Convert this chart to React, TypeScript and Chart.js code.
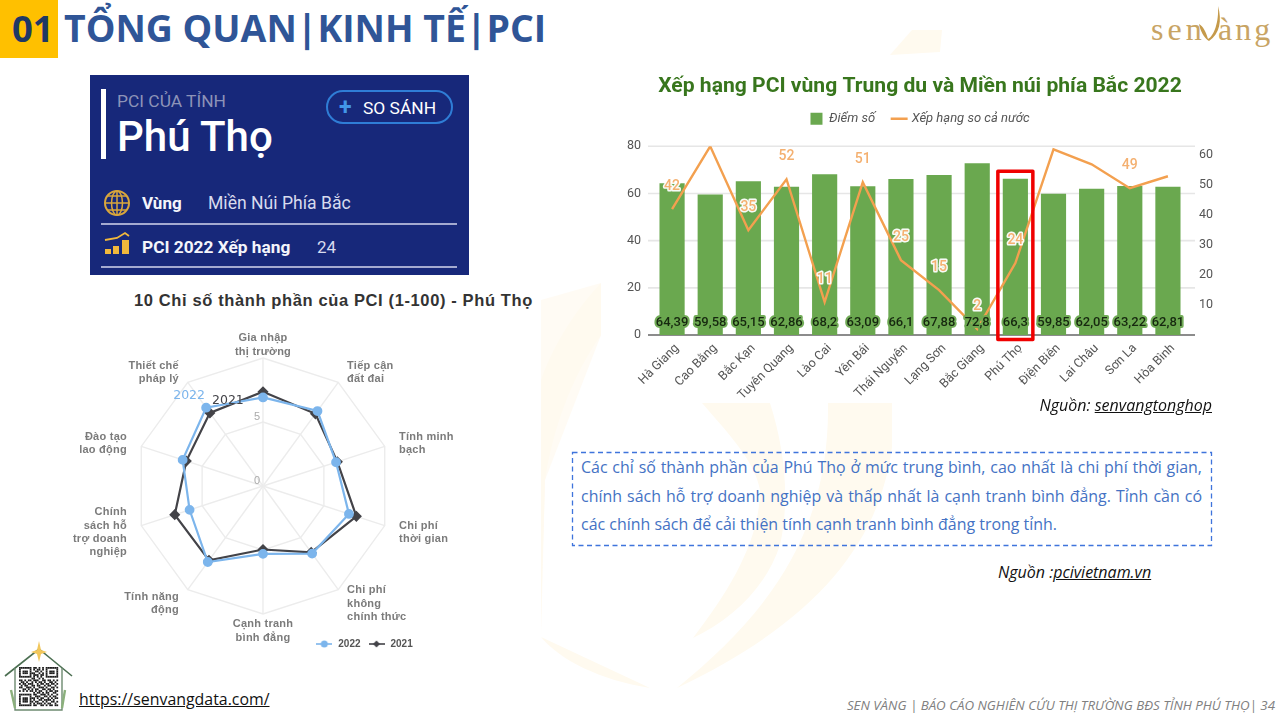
import React, { useEffect, useRef } from "react";
import { Chart, registerables } from "chart.js";

Chart.register(...registerables);

const provinces = ["Hà Giang", "Cao Bằng", "Bắc Kạn", "Tuyên Quang", "Lào Cai", "Yên Bái", "Thái Nguyên", "Lạng Sơn", "Bắc Giang", "Phú Thọ", "Điện Biên", "Lai Châu", "Sơn La", "Hòa Bình"];
const scores = [64.39, 59.58, 65.15, 62.86, 68.2, 63.09, 66.1, 67.88, 72.8, 66.3, 59.85, 62.05, 63.22, 62.81];
const ranks = [42, 63, 35, 52, 11, 51, 25, 15, 2, 24, 62, 57, 49, 53];
const labelledRanks = [42, 35, 52, 11, 51, 25, 15, 2, 24, 49];
const highlighted = "Phú Thọ";
const barTitle = "Xếp hạng PCI vùng Trung du và Miền núi phía Bắc 2022";

const radarLabels = [["Gia nhập", "thị trường"], ["Tiếp cận", "đất đai"], ["Tính minh", "bạch"], ["Chi phí", "thời gian"], ["Chi phí", "không", "chính thức"], ["Cạnh tranh", "bình đẳng"], ["Tính năng", "động"], ["Chính", "sách hỗ", "trợ doanh", "nghiệp"], ["Đào tạo", "lao động"], ["Thiết chế", "pháp lý"]];
const pci2022 = [6.92, 7.24, 6.0, 7.06, 6.53, 5.3, 7.34, 6.03, 6.6, 7.56];
const pci2021 = [7.36, 6.97, 6.11, 7.67, 6.41, 4.96, 7.18, 7.25, 6.3, 7.06];
const radarTicks = [0, 5];
const noteLines = [
  "Các chỉ số thành phần của Phú Thọ ở mức trung bình, cao nhất là chi phí thời gian,",
  "chính sách hỗ trợ doanh nghiệp và thấp nhất là cạnh tranh bình đẳng. Tỉnh cần có",
  "các chính sách để cải thiện tính cạnh tranh bình đẳng trong tỉnh.",
];

const ORANGE = "#f3a04f";
const LABEL_ORANGE = "#f4b070";
const BLUE = "#7cb5ec";
const DARK = "#434348";

const SANS = "Roboto";

const gridPlugin = {
  id: "wideGrid",
  beforeDatasetsDraw(chart: any) {
    const { ctx, chartArea, scales } = chart;
    ctx.save();
    scales.y.ticks.forEach((t: any) => {
      const y = scales.y.getPixelForValue(t.value);
      ctx.strokeStyle = t.value === 0 ? "#666666" : "#e6e6e6";
      ctx.lineWidth = t.value === 0 ? 1.4 : 1.6;
      ctx.beginPath();
      ctx.moveTo(chartArea.left - 5, y);
      ctx.lineTo(chartArea.right + 8, y);
      ctx.stroke();
    });
    ctx.restore();
  },
};

const barLabelPlugin = {
  id: "barLabels",
  afterDatasetsDraw(chart: any) {
    const { ctx, scales } = chart;
    const bars = chart.getDatasetMeta(0).data;
    const line = chart.getDatasetMeta(1).data;
    ctx.save();
    ctx.textAlign = "center";
    ctx.textBaseline = "middle";
    ctx.lineJoin = "round";
    ctx.font = `500 13px ${SANS}`;
    scores.forEach((v, i) => {
      const x = bars[i].x;
      const y = scales.y.getPixelForValue(0) - 12;
      const s = String(v).replace(".", ",");
      ctx.lineWidth = 4;
      ctx.strokeStyle = "rgba(106,168,79,0.95)";
      ctx.strokeText(s, x, y);
      ctx.fillStyle = "#16280f";
      ctx.fillText(s, x, y);
    });
    ctx.font = `500 14px ${SANS}`;
    ranks.forEach((v, i) => {
      if (!labelledRanks.includes(v)) return;
      const x = line[i].x;
      const y = line[i].y - 23;
      ctx.lineWidth = 3;
      ctx.strokeStyle = "rgba(255,255,255,0.95)";
      ctx.strokeText(String(v), x, y);
      ctx.fillStyle = LABEL_ORANGE;
      ctx.fillText(String(v), x, y);
    });
    const idx = provinces.indexOf(highlighted);
    const cx = bars[idx].x;
    ctx.strokeStyle = "#f00000";
    ctx.lineWidth = 3.5;
    const top = scales.y.getPixelForValue(66.3) - 7.5;
    const bottom = scales.y.getPixelForValue(0) + 4.5;
    ctx.strokeRect(cx - 17.5, top, 35, bottom - top);
    ctx.restore();
  },
};

const legendGapPlugin = {
  id: "legendGap",
  afterLayout(chart: any) {
    chart.legend.top -= 11;
    chart.legend.bottom -= 11;
  },
};

const radarDecorPlugin = {
  id: "radarDecor",
  afterLayout(chart: any) {
    chart.legend.left += 101;
    chart.legend.right += 101;
    chart.legend.top += 18;
    chart.legend.bottom += 18;
  },
  afterDatasetsDraw(chart: any) {
    const { ctx } = chart;
    const r = chart.scales.r;
    ctx.save();
    ctx.font = `11px "Liberation Sans"`;
    ctx.fillStyle = "#aaaaaa";
    ctx.textAlign = "center";
    ctx.textBaseline = "middle";
    radarTicks.forEach((t) => {
      const d = r.getDistanceFromCenterForValue(t);
      ctx.fillText(String(t), r.xCenter - 6, r.yCenter - d - 5);
    });
    ctx.font = `bold 11px "Liberation Sans"`;
    (ctx as any).letterSpacing = "0.25px";
    ctx.fillStyle = "#7b7b7b";
    const lh = 13.3;
    (chart.data.labels as string[][]).forEach((lines, i) => {
      const p = r.getPointPosition(i, r.drawingArea + 15);
      const dx = p.x - r.xCenter;
      ctx.textAlign = Math.abs(dx) < 1 ? "center" : dx > 0 ? "left" : "right";
      lines.forEach((ln, k) => {
        ctx.fillText(ln, p.x, p.y + 2 + (k - (lines.length - 1) / 2) * lh);
      });
    });
    (ctx as any).letterSpacing = "0px";
    ctx.textAlign = "center";
    ctx.font = `12.5px "DejaVu Sans"`;
    const a = chart.getDatasetMeta(0).data[9];
    const b = chart.getDatasetMeta(1).data[9];
    ctx.fillStyle = BLUE;
    ctx.fillText(chart.data.datasets[0].label, a.x - 17, a.y - 12);
    ctx.fillStyle = DARK;
    ctx.fillText(chart.data.datasets[1].label, b.x + 18, b.y - 12);
    ctx.restore();
  },
};

function legendIcon(color: string, diamond: boolean) {
  const c = document.createElement("canvas");
  c.width = 16;
  c.height = 10;
  const g = c.getContext("2d")!;
  g.strokeStyle = color;
  g.fillStyle = color;
  g.lineWidth = 1.6;
  g.beginPath();
  g.moveTo(0, 5);
  g.lineTo(16, 5);
  g.stroke();
  g.beginPath();
  if (diamond) {
    g.moveTo(8, 1.5);
    g.lineTo(11.5, 5);
    g.lineTo(8, 8.5);
    g.lineTo(4.5, 5);
    g.closePath();
  } else {
    g.arc(8, 5, 3.5, 0, Math.PI * 2);
  }
  g.fill();
  return c;
}

function BarChart() {
  const ref = useRef<HTMLCanvasElement>(null);
  useEffect(() => {
    const chart = new Chart(ref.current!, {
      type: "bar",
      data: {
        labels: provinces,
        datasets: [
          { type: "bar", label: "Điểm số", data: scores, backgroundColor: "#6aa84f", yAxisID: "y", barPercentage: 0.66, categoryPercentage: 1, order: 2, pointStyle: "rect" },
          { type: "line", label: "Xếp hạng so cả nước", data: ranks, borderColor: ORANGE, backgroundColor: ORANGE, borderWidth: 2.4, pointRadius: 0, tension: 0, yAxisID: "y2", order: 1, pointStyle: "line" },
        ] as any,
      },
      options: {
        responsive: false,
        animation: false,
        devicePixelRatio: 1,
        layout: { padding: { top: 4, left: 0, right: 0, bottom: 0 } },
        plugins: {
          tooltip: { enabled: false },
          title: { display: true, text: barTitle, color: "#38761d", font: { family: SANS, size: 21.1, weight: "bold" }, padding: { top: 0, bottom: 6 } },
          legend: {
            display: true,
            position: "top",
            labels: { usePointStyle: true, font: { family: SANS, size: 13, style: "italic" }, color: "#555555", padding: 18, boxWidth: 12, boxHeight: 12, sort: (a: any, b: any) => a.datasetIndex - b.datasetIndex },
          },
        },
        scales: {
          x: {
            grid: { display: false, drawTicks: false },
            border: { display: false },
            afterFit(s: any) { s.height = 70; },
            ticks: { autoSkip: false, minRotation: 45, maxRotation: 45, padding: 6, labelOffset: 5, color: "#555555", font: { family: SANS, size: 12.5 } },
          },
          y: {
            min: 0, max: 80,
            position: "left",
            grid: { display: false, drawTicks: false },
            border: { display: false },
            afterFit(s: any) { s.width = 33; },
            ticks: { stepSize: 20, padding: 12, color: "#555555", font: { family: SANS, size: 12.5 } },
          },
          y2: {
            min: 0, max: 63,
            position: "right",
            grid: { display: false, drawTicks: false },
            border: { display: false },
            afterFit(s: any) { s.width = 33; },
            ticks: { stepSize: 10, includeBounds: false, padding: 12, color: "#555555", font: { family: SANS, size: 12.5 }, callback: (v: any) => (v === 0 ? "" : v) },
          },
        },
      } as any,
      plugins: [gridPlugin, barLabelPlugin, legendGapPlugin],
    });
    return () => chart.destroy();
  }, []);
  return <canvas ref={ref} width={600} height={335} style={{ position: "absolute", left: 620, top: 70, width: 600, height: 335, filter: "blur(0.45px)" }} />;
}

function RadarChart() {
  const ref = useRef<HTMLCanvasElement>(null);
  useEffect(() => {
    const chart = new Chart(ref.current!, {
      type: "radar",
      data: {
        labels: radarLabels,
        datasets: [
          { label: "2022", data: pci2022, borderColor: BLUE, backgroundColor: BLUE, borderWidth: 2.2, pointRadius: 3.8, pointStyle: "circle", pointBackgroundColor: BLUE, fill: false },
          { label: "2021", data: pci2021, borderColor: DARK, backgroundColor: DARK, borderWidth: 2.2, pointRadius: 4, pointStyle: "rectRot", pointBackgroundColor: DARK, fill: false },
        ],
      },
      options: {
        responsive: false,
        animation: false,
        devicePixelRatio: 1,
        layout: { padding: { top: 36, left: 0, right: 0, bottom: 29 } },
        plugins: {
          tooltip: { enabled: false },
          title: { display: false },
          legend: {
            display: true,
            position: "bottom",
            labels: {
              usePointStyle: true,
              pointStyleWidth: 18,
              boxHeight: 10,
              padding: 7,
              color: "#555555",
              font: { family: "Liberation Sans", size: 10, weight: "bold" },
              generateLabels: (c: any) =>
                c.data.datasets.map((d: any, i: number) => ({
                  text: d.label,
                  fontColor: "#555555",
                  pointStyle: legendIcon(d.borderColor, i === 1),
                  datasetIndex: i,
                  lineWidth: 0,
                  strokeStyle: "transparent",
                  fillStyle: "transparent",
                })),
            },
          },
        },
        scales: {
          r: {
            min: 0, max: 10,
            ticks: { stepSize: 5, display: false },
            grid: { color: "#ececec", lineWidth: 1.4, circular: false },
            angleLines: { color: "#ececec", lineWidth: 1.4 },
            pointLabels: { display: false },
          },
        },
      } as any,
      plugins: [radarDecorPlugin],
    });
    return () => chart.destroy();
  }, []);
  return <canvas ref={ref} width={426} height={348} style={{ position: "absolute", left: 50, top: 322, width: 426, height: 348, filter: "blur(0.45px)" }} />;
}

const qrRows = [
  "1111111011010101111111",
  "1000001010110101000001",
  "1011101001101001011101",
  "1011101110010101011101",
  "1000001011101101000001",
  "1111111010101001111111",
  "0000000110010100000000",
  "1101011011100110110101",
  "0110100101011010011010",
  "1011011100101101101101",
  "0101100110110010110010",
  "1100111010011101001101",
  "0011010101100110110100",
  "1010101101011001011011",
  "0000000010110101100110",
  "1111111011001110101001",
  "1000001001110011010110",
  "1011101110101100101011",
  "1011101010011011110100",
  "1011101101100101001101",
  "1000001010111010110010",
  "1111111011001101011011",
];

function Decor() {
  return (
    <svg width={1280} height={720} style={{ position: "absolute", left: 0, top: 0 }}>
      <g fill="#fffaef">
        <path d="M601 283 L601 335 C570 380 553 430 545 480 L541 620 L541 637 L650 688 C600 680 560 660 541 637 L541 380 C555 340 580 305 601 283 Z" />
        <path d="M702 403 L770 403 C785 450 790 500 780 545 C765 590 730 620 693 638 C730 590 760 540 760 490 C755 460 725 430 702 403 Z" />
        <path d="M828 403 L892 403 L892 447 C880 540 820 620 677 688 C760 620 830 540 828 403 Z" />
        <path d="M912 30 L942 30 L940 52 L890 55 Z" />
        <path d="M541 300 L601 283 L601 335 L545 480 L541 637 Z" opacity={0.7} />
      </g>
      <g style={{ filter: "blur(0.4px)" }}>
        <path d="M5 676 L39 649 L72 676" fill="none" stroke="#4c6f52" strokeWidth={1.6} />
        <path d="M39 641 L41 650 L47 652 L41 654 L39 662 L37 654 L31 652 L37 650 Z" fill="#f2c75c" />
        <path d="M15 668 L15 710 L62 710 L62 668" fill="none" stroke="#6d8a70" strokeWidth={1.4} />
        {qrRows.map((row, j) =>
          row.split("").map((c, i) =>
            c === "1" ? <rect key={`${i}-${j}`} x={19 + i * 1.78} y={667 + j * 1.78} width={1.78} height={1.78} fill="#1c1c1c" /> : null
          )
        )}
        <path d="M11 690 L15 708 M65 690 L62 708" stroke="#8bb07c" strokeWidth={2.4} />
      </g>
      <g style={{ filter: "blur(0.4px)" }}>
        <circle cx={117} cy={203} r={12} fill="none" stroke="#d9a63c" strokeWidth={2} />
        <ellipse cx={117} cy={203} rx={5.5} ry={12} fill="none" stroke="#d9a63c" strokeWidth={1.5} />
        <path d="M105 203 H129 M107 196 H127 M107 210 H127 M117 191 V215" stroke="#d9a63c" strokeWidth={1.5} />
        <path d="M105 240 L117 238 L125 233 L129 236" fill="none" stroke="#f1b83c" strokeWidth={1.8} />
        <rect x={105} y={249} width={6} height={5} fill="#f1b83c" />
        <rect x={113} y={246} width={6} height={8} fill="#f1b83c" />
        <rect x={122} y={240} width={7} height={14} fill="#f1b83c" />
      </g>
      <rect x={572.5} y={452.5} width={639} height={93} fill="none" stroke="#3f74dc" strokeWidth={1.3} strokeDasharray="5 3.5" />
    </svg>
  );
}

const T = ({ s, children }: any) => <div style={{ position: "absolute", whiteSpace: "nowrap", ...s }}>{children}</div>;

export default function App() {
  const OPEN = '"Open Sans"';
  return (
    <div style={{ position: "absolute", left: 0, top: 0, width: 1280, height: 720, overflow: "hidden", background: "#ffffff" }}>
      <div style={{ position: "absolute", left: 90, top: 75, width: 379, height: 200, background: "#17287a" }} />
      <Decor />

      <div style={{ position: "absolute", left: 0, top: 0, width: 58, height: 58, background: "#ffc000" }} />
      <T s={{ left: 12, top: 5, fontFamily: OPEN, fontWeight: 700, fontSize: 36.5, lineHeight: "46px", color: "#1f3864" }}>01</T>
      <T s={{ left: 64, top: 5, fontFamily: OPEN, fontWeight: 700, fontSize: 37.4, lineHeight: "46px", color: "#2f5597" }}>TỔNG QUAN|KINH TẾ|PCI</T>

      <T s={{ left: 1151, top: 11, fontFamily: '"Liberation Serif"', fontSize: 32, lineHeight: "36px", letterSpacing: 4, color: "#c8a464" }}>sen</T>
      <T s={{ left: 1218, top: 11, fontFamily: '"Liberation Serif"', fontSize: 32, lineHeight: "36px", letterSpacing: 3, color: "#c8a464" }}>àng</T>
      <svg width={40} height={50} style={{ position: "absolute", left: 1190, top: 0 }}>
        <path d="M9 24 C13 26 16 32 18 39 C24 36 29 22 28 6 C32 20 30 34 19 41 C14 38 10 30 9 24 Z" fill="#c59a4a" />
      </svg>

      <div style={{ position: "absolute", left: 101, top: 89, width: 5, height: 70, background: "#ffffff" }} />
      <T s={{ left: 117, top: 91, fontFamily: SANS, fontSize: 17.4, lineHeight: "20px", color: "#8d93b8" }}>PCI CỦA TỈNH</T>
      <T s={{ left: 117, top: 113, fontFamily: SANS, fontWeight: 500, fontSize: 42, lineHeight: "48px", color: "#ffffff" }}>Phú Thọ</T>
      <div style={{ position: "absolute", left: 326, top: 90, width: 123, height: 30, border: "2px solid #2f7dd6", borderRadius: 17 }} />
      <T s={{ left: 339, top: 96, fontFamily: SANS, fontWeight: 700, fontSize: 23, lineHeight: "24px", color: "#4296e8" }}>+</T>
      <T s={{ left: 363, top: 98, fontFamily: SANS, fontWeight: 400, fontSize: 17.4, lineHeight: "20px", color: "#ffffff" }}>SO SÁNH</T>
      <T s={{ left: 142, top: 193, fontFamily: SANS, fontWeight: 700, fontSize: 17, lineHeight: "20px", color: "#f4f5fb" }}>Vùng</T>
      <T s={{ left: 208, top: 193, fontFamily: SANS, fontSize: 17.6, lineHeight: "20px", color: "#d8dbee" }}>Miền Núi Phía Bắc</T>
      <div style={{ position: "absolute", left: 101, top: 223, width: 356, height: 2, background: "#a4aad0" }} />
      <T s={{ left: 142, top: 237, fontFamily: SANS, fontWeight: 700, fontSize: 17.3, lineHeight: "20px", color: "#f4f5fb" }}>PCI 2022 Xếp hạng</T>
      <T s={{ left: 317, top: 237, fontFamily: SANS, fontSize: 17, lineHeight: "20px", color: "#d8dbee" }}>24</T>
      <div style={{ position: "absolute", left: 101, top: 266, width: 356, height: 2, background: "#a4aad0" }} />

      <T s={{ left: 134, top: 290, fontFamily: '"Liberation Sans"', fontWeight: 700, fontSize: 16.5, lineHeight: "20px", letterSpacing: 0.62, color: "#333333" }}>10 Chỉ số thành phần của PCI (1-100) - Phú Thọ</T>

      <RadarChart />
      <BarChart />

      <T s={{ right: 68, top: 395, fontFamily: OPEN, fontStyle: "italic", fontSize: 16, lineHeight: "20px", color: "#111111" }}>Nguồn: <u>senvangtonghop</u></T>
      <div style={{ position: "absolute", left: 581, top: 453, width: 621, fontFamily: OPEN, fontSize: 15.95, lineHeight: "28.6px", color: "#4472c4" }}>
        {noteLines.map((ln, i) => (
          <div key={i} style={{ whiteSpace: "nowrap", textAlign: "justify", textAlignLast: i < 2 ? "justify" : "left" }}>{ln}</div>
        ))}
      </div>
      <T s={{ left: 998, top: 562, fontFamily: OPEN, fontStyle: "italic", fontSize: 16, lineHeight: "20px", color: "#111111" }}>Nguồn :<u>pcivietnam.vn</u></T>

      <T s={{ left: 79, top: 689, fontFamily: OPEN, fontSize: 15.9, lineHeight: "20px", color: "#111111" }}><u>https://senvangdata.com/</u></T>
      <T s={{ right: 5, top: 697, fontFamily: OPEN, fontStyle: "italic", fontSize: 13.3, lineHeight: "17px", color: "#808080" }}>SEN VÀNG | BÁO CÁO NGHIÊN CỨU THỊ TRƯỜNG BĐS TỈNH PHÚ THỌ| 34</T>
    </div>
  );
}
